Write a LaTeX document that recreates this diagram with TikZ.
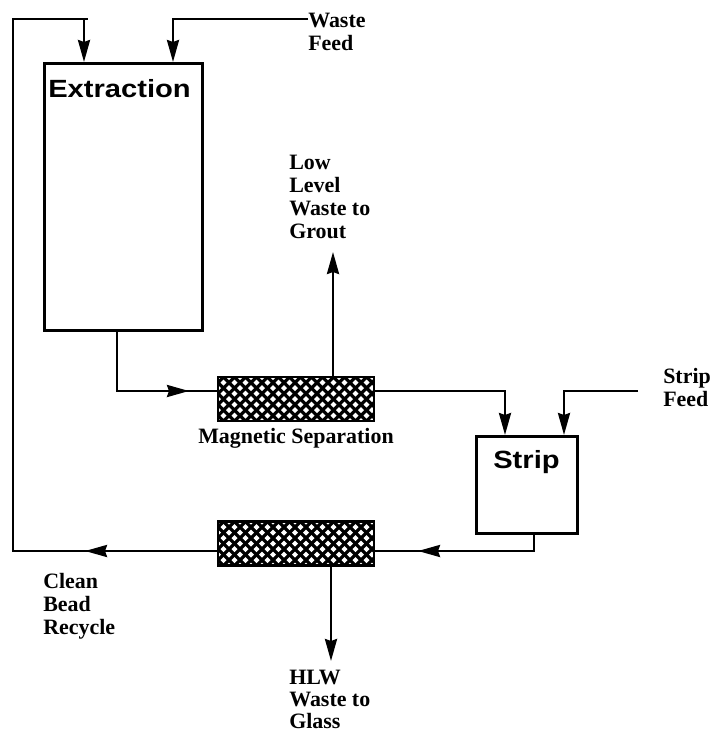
\documentclass[tikz,border=0pt]{standalone}
\usepackage{fontspec}
\usetikzlibrary{arrows.meta}
\newfontfamily\labfont{Liberation Serif}
\newfontfamily\boxfont[FakeStretch=1.17]{Liberation Sans}
\begin{document}
\begin{tikzpicture}[x=1bp,y=-1bp,line width=2.6bp,
  arr/.style={-{Stealth[length=22bp,width=12bp,inset=2bp]}},
  procbox/.style={draw,line width=3bp,inner sep=0,fill=white},
  boxlabel/.style={font=\boxfont\bfseries\fontsize{25}{28}\selectfont,inner sep=0,anchor=base west},
  lab/.style={font=\labfont\bfseries\fontsize{22}{23}\selectfont,align=left,inner sep=0,anchor=north west},
  hatchbox/.style={draw,line width=2.6bp,inner sep=0,minimum width=156bp,minimum height=44bp,
    path picture={
      \fill[black] (path picture bounding box.south west) rectangle (path picture bounding box.north east);
      \foreach \i in {0,...,15}{\foreach \j in {0,...,9}{
        \fill[white] ([shift={({\i*11+mod(\j,2)*5.5},{\j*5.5})}]path picture bounding box.north west)
          +(-3,0) -- +(0,-3) -- +(3,0) -- +(0,3) -- cycle;}}
    }}]
\useasboundingbox (0,0) rectangle (712,737);

% boxes
\node[procbox,minimum width=158bp,minimum height=267bp] (ext) at (123.5,197) {};
\node[boxlabel] (extlab) at (47,97) {Extraction};
\node[procbox,minimum width=101bp,minimum height=97bp] (strip) at (527,485) {};
\node[boxlabel] (striplab) at (492,468) {Strip};
\node[hatchbox] (mag1) at (296,399) {};
\node[hatchbox] (mag2) at (296,543.5) {};

% labels
\node[lab] (wastefeed) at (307,12) {Waste\\Feed};
\node[lab] (llw) at (288,154) {Low\\Level\\Waste to\\Grout};
\node[lab] (magsep) at (197,427) {Magnetic Separation};
\node[lab] (stripfeed) at (662,367) {Strip\\Feed};
\node[lab] (cbr) at (42,572) {Clean\\Bead\\Recycle};
\node[lab,font=\labfont\bfseries\fontsize{22}{22}\selectfont] (hlw) at (288,669) {HLW\\Waste to\\Glass};

% coordinates
\coordinate (tl) at (13,19);
\coordinate (tstub) at (88,19);
\coordinate (in1) at (84,19);
\coordinate (in2) at (173,19);
\coordinate (wf) at (308,19);
\coordinate (exy) at (117,391);
\coordinate (exa) at (189,391);
\coordinate (uptip) at (333,252);
\coordinate (s1) at (505,391);
\coordinate (sf) at (638,391);
\coordinate (s2) at (564,391);
\coordinate (s3) at (534,551);
\coordinate (s3a) at (418,551);
\coordinate (botl) at (13,551);
\coordinate (cbra) at (85,551);
\coordinate (hlwtip) at (331,661);

% connectors
\draw[arr] (in1) -- (in1 |- ext.north);
\draw[arr] (wf) -- (in2) -- (in2 |- ext.north);
\draw (ext.south -| exy) -- (exy) -- (mag1.west |- exy);
\draw[arr] (exy) -- (exa);
\draw[arr] (mag1.north -| uptip) -- (uptip);
\draw[arr] (mag1.east |- s1) -- (s1) -- (s1 |- strip.north);
\draw[arr] (sf) -- (s2) -- (s2 |- strip.north);
\draw (strip.south -| s3) -- (s3) -- (mag2.east |- s3);
\draw[arr] (s3) -- (s3a);
\draw (mag2.west |- botl) -- (botl) -- (tl) -- (tstub);
\draw[arr] (mag2.west |- botl) -- (cbra);
\draw[arr] (mag2.south -| hlwtip) -- (hlwtip);
\end{tikzpicture}
\end{document}
